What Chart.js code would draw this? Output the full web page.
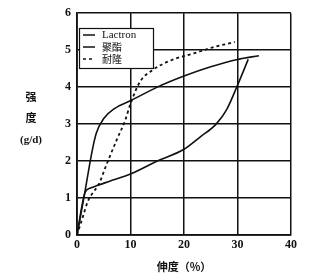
<!DOCTYPE html>
<html>
<head>
<meta charset="utf-8">
<script src="https://cdn.jsdelivr.net/npm/chart.js@4"></script>
<style>
  html, body { margin: 0; padding: 0; background: #fff; }
  canvas { display: block; }
</style>
</head>
<body>
<canvas id="chart" width="313" height="277"></canvas>
<script>
// curve data (strain %, strength g/d)
const lactronX = [0, 1.5, 2.5, 4, 6, 10, 15, 20, 23, 26, 28, 30, 32];
const lactronY = [0, 1.15, 1.27, 1.35, 1.45, 1.65, 2.0, 2.32, 2.65, 3.0, 3.4, 4.05, 4.75];

const polyX = [0, 1.4, 2.8, 3.6, 5, 7, 10, 15, 20, 25, 30, 34];
const polyY = [0, 1.1, 2.25, 2.75, 3.15, 3.42, 3.63, 4.0, 4.3, 4.55, 4.75, 4.85];

const nylonX = [0, 1, 2, 3, 4, 5.5, 7.5, 9, 10, 11.8, 14, 18, 22, 25.5, 29.5];
const nylonY = [0, 0.45, 0.9, 1.15, 1.35, 1.9, 2.6, 3.1, 3.55, 4.15, 4.45, 4.75, 4.92, 5.08, 5.22];

const seriesLabels = ["Lactron", "聚酯", "耐隆"];
const xTicks = [0, 10, 20, 30, 40];
const yTicks = [0, 1, 2, 3, 4, 5, 6];

const serifFont = "'Liberation Serif', 'DejaVu Serif', serif";
const cjkFont = "'Noto Sans CJK SC', sans-serif";

function toPoints(xs, ys) {
    return xs.map((x, i) => ({ x: x, y: ys[i] }));
}

// legend box drawn inside the plot, plus the axis titles
const decorPlugin = {
    id: "decor",
    afterDraw(chart) {
        const ctx = chart.ctx;
        ctx.save();

        // legend box
        ctx.fillStyle = "#fff";
        ctx.fillRect(79, 28, 74, 40);
        ctx.strokeStyle = "#111";
        ctx.lineWidth = 1.2;
        ctx.strokeRect(79.5, 28.5, 74, 40);

        const rows = [35, 47, 59];
        chart.data.datasets.forEach((ds, i) => {
            ctx.beginPath();
            ctx.setLineDash(ds.borderDash || []);
            ctx.lineWidth = 1.5;
            ctx.strokeStyle = "#111";
            ctx.moveTo(83, rows[i]);
            ctx.lineTo(95, rows[i]);
            ctx.stroke();
            ctx.setLineDash([]);
            ctx.fillStyle = "#111";
            ctx.textBaseline = "middle";
            ctx.textAlign = "left";
            ctx.font = i === 0 ? "11px " + serifFont : "10px " + cjkFont;
            ctx.fillText(ds.label, 102, rows[i] + (i === 0 ? 0 : 0.5));
        });

        // y axis title
        ctx.fillStyle = "#111";
        ctx.textAlign = "center";
        ctx.textBaseline = "middle";
        ctx.font = "bold 11px " + cjkFont;
        ctx.fillText("强", 31, 97);
        ctx.fillText("度", 31, 118);
        ctx.font = "bold 11px " + serifFont;
        ctx.fillText("(g/d)", 31, 140);

        // x axis title
        ctx.font = "bold 11px " + cjkFont;
        ctx.fillText("伸度（%）", 184, 267);

        ctx.restore();
    }
};

const ctx = document.getElementById("chart").getContext("2d");

new Chart(ctx, {
    type: "line",
    data: {
        datasets: [{
            label: seriesLabels[0],
            data: toPoints(lactronX, lactronY),
            borderColor: "#111",
            borderWidth: 1.6
        }, {
            label: seriesLabels[1],
            data: toPoints(polyX, polyY),
            borderColor: "#111",
            borderWidth: 1.6
        }, {
            label: seriesLabels[2],
            data: toPoints(nylonX, nylonY),
            borderColor: "#111",
            borderWidth: 1.8,
            borderDash: [3, 3]
        }]
    },
    options: {
        responsive: false,
        animation: false,
        layout: { padding: { left: 0, right: 22, top: 13, bottom: 0 } },
        elements: {
            point: { radius: 0 },
            line: { cubicInterpolationMode: "monotone", fill: false }
        },
        scales: {
            x: {
                type: "linear",
                min: 0,
                max: 40,
                afterBuildTicks: axis => { axis.ticks = xTicks.map(v => ({ value: v })); },
                afterFit: axis => { axis.height = 42; },
                grid: { color: "#111", lineWidth: 1.5, drawTicks: false },
                border: { color: "#111", width: 1.8 },
                ticks: {
                    color: "#111",
                    padding: 3,
                    font: { family: serifFont, size: 12, weight: "bold" }
                }
            },
            y: {
                type: "linear",
                min: 0,
                max: 6,
                afterBuildTicks: axis => { axis.ticks = yTicks.map(v => ({ value: v })); },
                afterFit: axis => { axis.width = 77; },
                grid: { color: "#111", lineWidth: 1.5, drawTicks: false },
                border: { color: "#111", width: 1.8 },
                ticks: {
                    color: "#111",
                    padding: 6,
                    font: { family: serifFont, size: 12, weight: "bold" }
                }
            }
        },
        plugins: {
            legend: { display: false },
            tooltip: { enabled: false }
        }
    },
    plugins: [decorPlugin]
});
</script>
</body>
</html>
